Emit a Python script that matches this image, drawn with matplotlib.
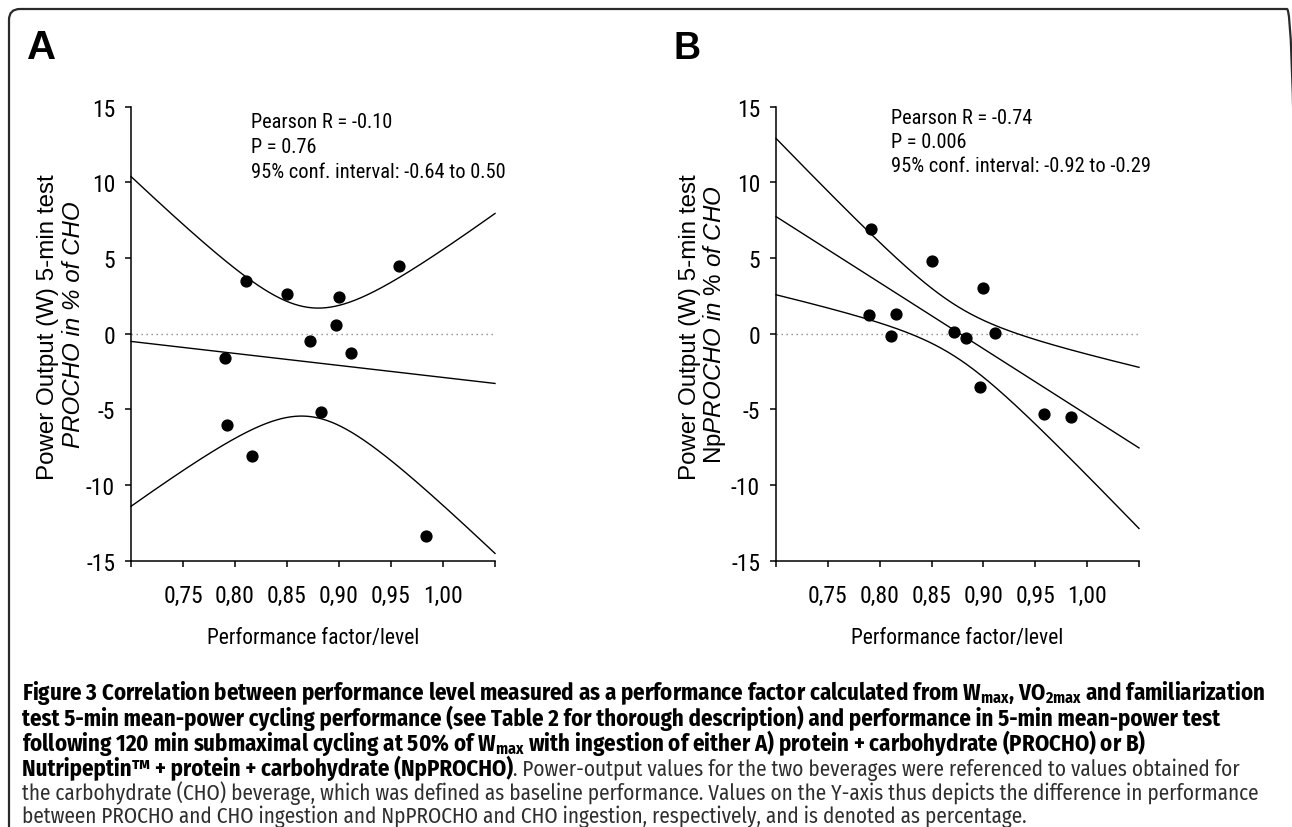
import numpy as np
import matplotlib
matplotlib.use("Agg")
import matplotlib.pyplot as plt
from matplotlib import font_manager
from matplotlib.patches import FancyBboxPatch
from matplotlib.transforms import IdentityTransform

# ---------------- data ----------------
perf_factor = [0.790, 0.792, 0.811, 0.816, 0.850, 0.872, 0.883, 0.897, 0.900, 0.9115, 0.958, 0.984]
procho_pct = [-1.6, -6.0, 3.5, -8.1, 2.6, -0.5, -5.2, 0.6, 2.4, -1.3, 4.5, -13.4]
npprocho_pct = [1.24, 6.92, -0.15, 1.31, 4.80, 0.11, -0.31, -3.5, 3.05, 0.02, -5.29, -5.49]

x_ticks = [0.70, 0.75, 0.80, 0.85, 0.90, 0.95, 1.00, 1.05]
x_ticklabels = ["", "0,75", "0,80", "0,85", "0,90", "0,95", "1,00", ""]
y_ticks = [-15, -10, -5, 0, 5, 10, 15]

stats_a = ["Pearson R = -0.10", "P = 0.76", "95% conf. interval: -0.64 to 0.50"]
stats_b = ["Pearson R = -0.74", "P = 0.006", "95% conf. interval: -0.92 to -0.29"]
T_975_DF10 = 2.228  # two-sided 95% t quantile, n = 12


# ---------------- fonts ----------------
def pick(names):
    for n in names:
        try:
            font_manager.findfont(font_manager.FontProperties(family=n), fallback_to_default=False)
            return n
        except Exception:
            pass
    return "DejaVu Sans"


SANS = pick(["Liberation Sans", "Arimo"])
NARROW = pick(["Liberation Sans Narrow", "Arial Narrow", "Roboto Condensed", "Archivo Narrow", SANS])
CAPTION = pick(["Fira Sans Condensed", "Asap Condensed", "PT Sans Narrow", "Roboto Condensed", NARROW])

plt.rcParams["font.family"] = [NARROW, "DejaVu Sans"]
plt.rcParams["axes.unicode_minus"] = False
plt.rcParams["mathtext.fontset"] = "custom"
plt.rcParams["mathtext.rm"] = SANS
plt.rcParams["mathtext.it"] = SANS + ":italic"
plt.rcParams["mathtext.bf"] = CAPTION + ":bold"

W, H = 1292, 828
fig = plt.figure(figsize=(W / 100, H / 100), dpi=100)
fig.patch.set_facecolor("white")
renderer = fig.canvas.get_renderer()


def rect(l, r, t, b):
    return [l / W, 1 - b / H, (r - l) / W, (b - t) / H]


def fx(px):
    return px / W


def fy(py):
    return 1 - py / H


def width_of(s, size=14, **kw):
    t = fig.text(0, 0, s, fontsize=size, **kw)
    w = t.get_window_extent(renderer).width
    t.remove()
    return w


def fit(s, target, **kw):
    return 14 * target / width_of(s, 14, **kw)


tick_size = fit("0,75", 40, family=NARROW)
stat_size = 0.5 * (fit("Pearson R = -0.10", 145, family=NARROW)
                   + fit("95% conf. interval: -0.64 to 0.50", 250, family=NARROW))
xlab_size = fit("Performance factor/level", 214, family=NARROW)

# frame with rounded corners (right and bottom sides fall outside the picture)
frame = FancyBboxPatch((9, -60), 1298 - 9, (H - 10) + 60,
                       boxstyle="round,pad=0,rounding_size=11",
                       transform=IdentityTransform(), fill=False,
                       edgecolor="#2a2a2a", linewidth=1.6)
fig.add_artist(frame)


def draw(ax, yvals):
    x = np.asarray(perf_factor)
    y = np.asarray(yvals)
    ax.set_xlim(x_ticks[0], x_ticks[-1])
    ax.set_ylim(y_ticks[0], y_ticks[-1])
    ax.axhline(0, color="#8a8a8a", lw=1.0, ls=(0, (1, 2.6)), zorder=1)
    slope, icpt = np.polyfit(x, y, 1)
    xs = np.linspace(x_ticks[0], x_ticks[-1], 400)
    line = icpt + slope * xs
    n = len(x)
    resid = y - (icpt + slope * x)
    s = np.sqrt(np.sum(resid ** 2) / (n - 2))
    se = s * np.sqrt(1.0 / n + (xs - x.mean()) ** 2 / np.sum((x - x.mean()) ** 2))
    for curve in (line, line + T_975_DF10 * se, line - T_975_DF10 * se):
        ax.plot(xs, curve, color="black", lw=1.0, zorder=2, clip_on=False)
    ax.plot(x, y, "o", color="black", ms=7.8, zorder=3, clip_on=False)
    for side in ("top", "right"):
        ax.spines[side].set_visible(False)
    for side in ("left", "bottom"):
        ax.spines[side].set_linewidth(1.1)
    ax.set_xticks(x_ticks)
    ax.set_xticklabels(x_ticklabels)
    ax.set_yticks(y_ticks)
    ax.tick_params(axis="x", length=4.5, width=1.1, pad=12, labelsize=tick_size)
    ax.tick_params(axis="y", length=4.5, width=1.1, pad=7, labelsize=tick_size)
    ax.set_xlabel("Performance factor/level", fontsize=xlab_size, labelpad=15)


axA = fig.add_axes(rect(131, 495, 107.7, 561.7))
axB = fig.add_axes(rect(776, 1139, 107.7, 561.7))
draw(axA, procho_pct)
draw(axB, npprocho_pct)

# y labels (vertical text: regular width)
YL = 17.4
fig.text(fx(48), fy(327), "Power Output (W) 5-min test", rotation=90,
         ha="center", va="center", fontsize=YL, family=SANS)
fig.text(fx(73), fy(325), "PROCHO in % of CHO", rotation=90, style="italic",
         ha="center", va="center", fontsize=YL, family=SANS)
fig.text(fx(690), fy(327), "Power Output (W) 5-min test", rotation=90,
         ha="center", va="center", fontsize=YL, family=SANS)
fig.text(fx(715), fy(325), r"Np$\mathit{PROCHO\ in\ \%\ of\ CHO}$", rotation=90,
         ha="center", va="center", fontsize=YL, family=SANS)

# stats annotations
for i, s in enumerate(stats_a):
    fig.text(fx(251), fy(123 + 24.5 * i), s, ha="left", va="center", fontsize=stat_size)
for i, s in enumerate(stats_b):
    fig.text(fx(891), fy(118 + 24.5 * i), s, ha="left", va="center", fontsize=stat_size)

# panel letters
fig.text(fx(27), fy(48), "A", ha="left", va="center", fontsize=29, fontweight="bold", family=SANS)
fig.text(fx(674), fy(49), "B", ha="left", va="center", fontsize=27, fontweight="bold", family=SANS)

# ---------------- caption ----------------
cap_x = 22
cap_lines = [
    [(r"Figure 3 Correlation between performance level measured as a performance factor calculated from W$_{\mathbf{max}}$, VO$_{\mathbf{2max}}$ and familiarization", "bold")],
    [("test 5-min mean-power cycling performance (see Table 2 for thorough description) and performance in 5-min mean-power test", "bold")],
    [(r"following 120 min submaximal cycling at 50% of W$_{\mathbf{max}}$ with ingestion of either A) protein + carbohydrate (PROCHO) or B)", "bold")],
    [("Nutripeptin\u2122 + protein + carbohydrate (NpPROCHO)", "bold"),
     (". Power-output values for the two beverages were referenced to values obtained for", "normal")],
    [("the carbohydrate (CHO) beverage, which was defined as baseline performance. Values on the Y-axis thus depicts the difference in performance", "normal")],
    [("between PROCHO and CHO ingestion and NpPROCHO and CHO ingestion, respectively, and is denoted as percentage.", "normal")],
]
cap_base = [700, 726, 751, 776, 800, 823]

sizes = {"bold": fit(cap_lines[0][0][0], 1244, family=CAPTION, fontweight="bold"),
         "normal": fit(cap_lines[4][0][0], 1246, family=CAPTION, fontweight="normal")}
colors = {"bold": "black", "normal": "#2e2e2e"}

for segs, yy in zip(cap_lines, cap_base):
    x = cap_x
    for s, weight in segs:
        t = fig.text(fx(x), fy(yy), s, ha="left", va="baseline", family=CAPTION,
                     fontsize=sizes[weight], fontweight=weight, color=colors[weight])
        x += t.get_window_extent(renderer).width

fig.savefig("out.png", dpi=100, facecolor="white")
